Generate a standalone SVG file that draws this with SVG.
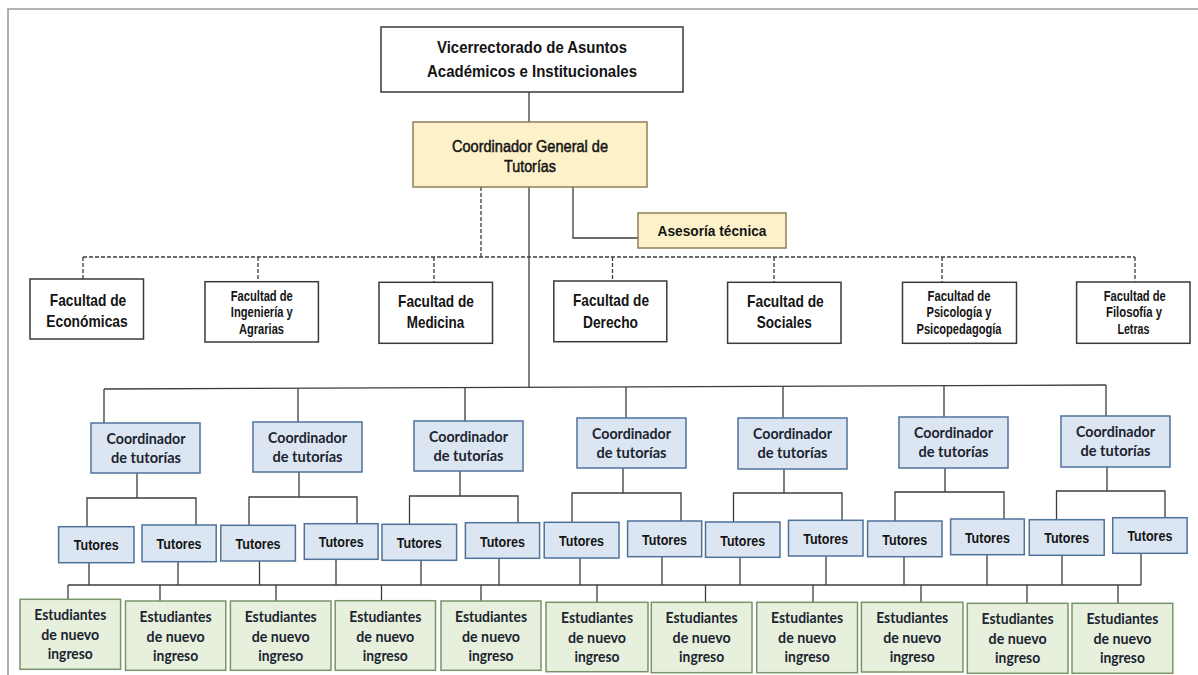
<svg xmlns="http://www.w3.org/2000/svg" width="1198" height="675" viewBox="0 0 1198 675">
  <style>
    .frame { stroke: #9c9c9c; stroke-width: 1.6; fill: none; }
    .ln { stroke: #3c3c3c; stroke-width: 1.3; fill: none; }
    .dash { stroke: #3c3c3c; stroke-width: 1.3; fill: none; stroke-dasharray: 4 2; }
    .b-white { fill: #ffffff; stroke: #3a3a3a; stroke-width: 1.5; }
    .b-gold { fill: #fdf1c9; stroke: #8f7f5a; stroke-width: 1.5; }
    .b-blue { fill: #dce6f2; stroke: #4f729b; stroke-width: 1.5; }
    .b-green { fill: #e6f0dc; stroke: #7a946a; stroke-width: 1.5; }
    text { text-anchor: middle; fill: #141414; }
    .ar { font-family: "Liberation Sans", Arial, sans-serif; font-weight: bold; }
    .arn { font-family: "Liberation Sans", Arial, sans-serif; font-weight: normal; stroke: #141414; stroke-width: 0.5; }
    .cal { font-family: Lato, "Liberation Sans", sans-serif; font-weight: bold; fill: #1c2430; }
    .f17 { font-size: 17px; }
    .f16 { font-size: 16.5px; }
    .f15 { font-size: 15.5px; }
    .f14 { font-size: 14.5px; }
    .f13 { font-size: 14px; }
  </style>

  <!-- page frame -->
  <path class="frame" d="M8,675 V9 H1198"/>

  <!-- connectors -->
  <g id="connectors">
    <path class="ln" d="M529,92 V122"/>
    <path class="ln" d="M573,187 V238 H638"/>
    <!-- dotted links to the faculties -->
    <path class="dash" d="M481,187 V257"/>
    <path class="dash" d="M83,257 H1135"/>
    <path class="dash" d="M83,257 V279 M258,257 V281.7 M434,257 V282.3 M612.5,257 V281 M774,257 V282.3 M942,257 V282.3 M1135,257 V282"/>
    <!-- trunk to the tutoring coordinators -->
    <path class="ln" d="M529,187 V387.3"/>
    <path class="ln" d="M104,389 L1106,385"/>
    <path class="ln" d="M104,389 V423 M298,388.2 V422 M465,387.6 V421 M626,386.9 V418 M783,386.3 V418 M944,385.6 V417 M1106,385 V416"/>
    <!-- coordinator to tutors -->
    <path class="ln" d="M137,473 V498 M87,526.7 V498 H196 V525"/>
    <path class="ln" d="M299,472 V497 M249,525.3 V497 H357 V523.7"/>
    <path class="ln" d="M460,471 V496 M409.5,524.3 V496 H518 V522.7"/>
    <path class="ln" d="M623,468 V493 M572,522.3 V493 H681 V521"/>
    <path class="ln" d="M784,469 V493 M733.5,522 V493 H842 V520.3"/>
    <path class="ln" d="M945,468 V492 M895,521 V492 H1004 V519"/>
    <path class="ln" d="M1107,467 V491 M1056.5,519.7 V491 H1165 V517.7"/>
    <!-- tutors to students -->
    <path class="ln" d="M89,562.7 V585 M178,561.7 V585 M259.5,561 V585 M336,559.3 V585 M421,560.3 V585 M499,558.3 V585 M580,558 V585 M662,556.7 V585 M740,557.3 V585 M826,556 V585 M904,556.7 V585 M987,554.7 V585 M1062,555.3 V585 M1141,553.3 V585"/>
    <path class="ln" d="M68,585 H1141"/>
    <path class="ln" d="M68,585 V599.3 M160,585 V601 M276,585 V601 M381.5,585 V600.7 M481,585 V601 M597,585 V602.3 M705.5,585 V602.3 M813,585 V602.3 M921,585 V602.3 M1027,585 V603.3 M1118,585 V603.3"/>
  </g>

  <!-- top management -->
  <g id="vicerrectorado">
    <rect class="b-white" x="381" y="27" width="302" height="65"/>
    <text class="ar f16" x="532" y="53.3" textLength="190" lengthAdjust="spacingAndGlyphs">Vicerrectorado de Asuntos</text>
    <text class="ar f16" x="532" y="76.7" textLength="210" lengthAdjust="spacingAndGlyphs">Académicos e Institucionales</text>
  </g>
  <g id="coordinador-general">
    <rect class="b-gold" x="413" y="122" width="234" height="65"/>
    <text class="arn f16" x="530" y="151.7" textLength="156" lengthAdjust="spacingAndGlyphs">Coordinador General de</text>
    <text class="arn f16" x="530" y="171.7" textLength="52" lengthAdjust="spacingAndGlyphs">Tutorías</text>
  </g>
  <g id="asesoria">
    <rect class="b-gold" x="638" y="213" width="148" height="35"/>
    <text class="ar f15" x="712" y="236" textLength="109" lengthAdjust="spacingAndGlyphs">Asesoría técnica</text>
  </g>

  <!-- faculties -->
  <g id="fac-economicas">
    <rect class="b-white" x="30" y="279" width="113.5" height="60"/>
    <text class="ar f17" x="88" y="305.7" textLength="76.5" lengthAdjust="spacingAndGlyphs">Facultad de</text>
    <text class="ar f17" x="87" y="326.5" textLength="81.5" lengthAdjust="spacingAndGlyphs">Económicas</text>
  </g>
  <g id="fac-ingenieria">
    <rect class="b-white" x="205" y="281.7" width="113.4" height="60.3"/>
    <text class="ar f13" x="261.8" y="300.7" textLength="62" lengthAdjust="spacingAndGlyphs">Facultad de</text>
    <text class="ar f13" x="261.8" y="317.3" textLength="62" lengthAdjust="spacingAndGlyphs">Ingeniería y</text>
    <text class="ar f13" x="261.5" y="334.3" textLength="45" lengthAdjust="spacingAndGlyphs">Agrarias</text>
  </g>
  <g id="fac-medicina">
    <rect class="b-white" x="379" y="282.3" width="113.5" height="61"/>
    <text class="ar f17" x="436" y="306.7" textLength="75.8" lengthAdjust="spacingAndGlyphs">Facultad de</text>
    <text class="ar f17" x="435.5" y="327.8" textLength="57.4" lengthAdjust="spacingAndGlyphs">Medicina</text>
  </g>
  <g id="fac-derecho">
    <rect class="b-white" x="553.8" y="281" width="113" height="60.7"/>
    <text class="ar f17" x="611" y="305.7" textLength="76" lengthAdjust="spacingAndGlyphs">Facultad de</text>
    <text class="ar f17" x="610.5" y="327.8" textLength="55" lengthAdjust="spacingAndGlyphs">Derecho</text>
  </g>
  <g id="fac-sociales">
    <rect class="b-white" x="727.6" y="282.3" width="113.4" height="61"/>
    <text class="ar f17" x="785.4" y="307.3" textLength="76.8" lengthAdjust="spacingAndGlyphs">Facultad de</text>
    <text class="ar f17" x="784.3" y="327.8" textLength="55" lengthAdjust="spacingAndGlyphs">Sociales</text>
  </g>
  <g id="fac-psicologia">
    <rect class="b-white" x="902.5" y="282.3" width="114" height="61"/>
    <text class="ar f13" x="959" y="300.7" textLength="63" lengthAdjust="spacingAndGlyphs">Facultad de</text>
    <text class="ar f13" x="959" y="317.3" textLength="65" lengthAdjust="spacingAndGlyphs">Psicología y</text>
    <text class="ar f13" x="959" y="334.3" textLength="85" lengthAdjust="spacingAndGlyphs">Psicopedagogía</text>
  </g>
  <g id="fac-filosofia">
    <rect class="b-white" x="1076.6" y="282" width="113.4" height="61.3"/>
    <text class="ar f13" x="1134.8" y="300.7" textLength="62" lengthAdjust="spacingAndGlyphs">Facultad de</text>
    <text class="ar f13" x="1134" y="317.3" textLength="56" lengthAdjust="spacingAndGlyphs">Filosofía y</text>
    <text class="ar f13" x="1133.4" y="334.3" textLength="32" lengthAdjust="spacingAndGlyphs">Letras</text>
  </g>

  <!-- tutoring coordinators -->
  <g id="coord-1">
    <rect class="b-blue" x="91" y="423" width="109" height="50"/>
    <text class="cal f15" x="146" y="444" textLength="79" lengthAdjust="spacingAndGlyphs">Coordinador</text>
    <text class="cal f15" x="146" y="463" textLength="70" lengthAdjust="spacingAndGlyphs">de tutorías</text>
  </g>
  <g id="coord-2">
    <rect class="b-blue" x="253" y="422" width="109" height="50"/>
    <text class="cal f15" x="307.5" y="443" textLength="79" lengthAdjust="spacingAndGlyphs">Coordinador</text>
    <text class="cal f15" x="307.5" y="462" textLength="70" lengthAdjust="spacingAndGlyphs">de tutorías</text>
  </g>
  <g id="coord-3">
    <rect class="b-blue" x="414" y="421" width="109" height="50"/>
    <text class="cal f15" x="468.5" y="442" textLength="79" lengthAdjust="spacingAndGlyphs">Coordinador</text>
    <text class="cal f15" x="468.5" y="461" textLength="70" lengthAdjust="spacingAndGlyphs">de tutorías</text>
  </g>
  <g id="coord-4">
    <rect class="b-blue" x="577" y="418" width="109" height="50"/>
    <text class="cal f15" x="631.5" y="439.3" textLength="79" lengthAdjust="spacingAndGlyphs">Coordinador</text>
    <text class="cal f15" x="631.5" y="458.3" textLength="70" lengthAdjust="spacingAndGlyphs">de tutorías</text>
  </g>
  <g id="coord-5">
    <rect class="b-blue" x="738" y="418" width="109" height="51"/>
    <text class="cal f15" x="792.5" y="439.3" textLength="79" lengthAdjust="spacingAndGlyphs">Coordinador</text>
    <text class="cal f15" x="792.5" y="458.3" textLength="70" lengthAdjust="spacingAndGlyphs">de tutorías</text>
  </g>
  <g id="coord-6">
    <rect class="b-blue" x="899" y="417" width="109" height="51"/>
    <text class="cal f15" x="953.5" y="438.3" textLength="79" lengthAdjust="spacingAndGlyphs">Coordinador</text>
    <text class="cal f15" x="953.5" y="457.3" textLength="70" lengthAdjust="spacingAndGlyphs">de tutorías</text>
  </g>
  <g id="coord-7">
    <rect class="b-blue" x="1061" y="416" width="109" height="51"/>
    <text class="cal f15" x="1115.5" y="437" textLength="79" lengthAdjust="spacingAndGlyphs">Coordinador</text>
    <text class="cal f15" x="1115.5" y="456" textLength="70" lengthAdjust="spacingAndGlyphs">de tutorías</text>
  </g>

  <!-- tutors -->
  <g id="tutores-1"><rect class="b-blue" x="58.6" y="526.7" width="75.4" height="36"/><text class="ar f15" x="96.3" y="550.3" textLength="45" lengthAdjust="spacingAndGlyphs">Tutores</text></g>
  <g id="tutores-2"><rect class="b-blue" x="142" y="525" width="74.2" height="36.7"/><text class="ar f15" x="179.1" y="548.6" textLength="45" lengthAdjust="spacingAndGlyphs">Tutores</text></g>
  <g id="tutores-3"><rect class="b-blue" x="220.8" y="525.3" width="74.6" height="35.7"/><text class="ar f15" x="258.1" y="549.3" textLength="45" lengthAdjust="spacingAndGlyphs">Tutores</text></g>
  <g id="tutores-4"><rect class="b-blue" x="304.3" y="523.7" width="73.8" height="35.6"/><text class="ar f15" x="341.2" y="547" textLength="45" lengthAdjust="spacingAndGlyphs">Tutores</text></g>
  <g id="tutores-5"><rect class="b-blue" x="382" y="524.3" width="74.6" height="36"/><text class="ar f15" x="419.3" y="548" textLength="45" lengthAdjust="spacingAndGlyphs">Tutores</text></g>
  <g id="tutores-6"><rect class="b-blue" x="465.4" y="522.7" width="74.2" height="35.6"/><text class="ar f15" x="502.5" y="546.7" textLength="45" lengthAdjust="spacingAndGlyphs">Tutores</text></g>
  <g id="tutores-7"><rect class="b-blue" x="544.2" y="522.3" width="74.8" height="35.7"/><text class="ar f15" x="581.6" y="546.2" textLength="45" lengthAdjust="spacingAndGlyphs">Tutores</text></g>
  <g id="tutores-8"><rect class="b-blue" x="627.6" y="521" width="74.1" height="35.7"/><text class="ar f15" x="664.6" y="544.5" textLength="45" lengthAdjust="spacingAndGlyphs">Tutores</text></g>
  <g id="tutores-9"><rect class="b-blue" x="705.5" y="522" width="74.5" height="35.3"/><text class="ar f15" x="742.7" y="545.5" textLength="45" lengthAdjust="spacingAndGlyphs">Tutores</text></g>
  <g id="tutores-10"><rect class="b-blue" x="788.5" y="520.3" width="74.5" height="35.7"/><text class="ar f15" x="825.7" y="543.5" textLength="45" lengthAdjust="spacingAndGlyphs">Tutores</text></g>
  <g id="tutores-11"><rect class="b-blue" x="867.6" y="521" width="74.4" height="35.7"/><text class="ar f15" x="904.8" y="544.7" textLength="45" lengthAdjust="spacingAndGlyphs">Tutores</text></g>
  <g id="tutores-12"><rect class="b-blue" x="950.6" y="519" width="73.7" height="35.7"/><text class="ar f15" x="987.4" y="542.6" textLength="45" lengthAdjust="spacingAndGlyphs">Tutores</text></g>
  <g id="tutores-13"><rect class="b-blue" x="1029.3" y="519.7" width="74.9" height="35.6"/><text class="ar f15" x="1066.7" y="543.4" textLength="45" lengthAdjust="spacingAndGlyphs">Tutores</text></g>
  <g id="tutores-14"><rect class="b-blue" x="1112.7" y="517.7" width="74.4" height="35.6"/><text class="ar f15" x="1149.9" y="541" textLength="45" lengthAdjust="spacingAndGlyphs">Tutores</text></g>

  <!-- new students -->
  <g id="estudiantes-1"><rect class="b-green" x="20" y="599.3" width="100.6" height="70"/>
    <text class="cal f14" x="70.3" y="620.3" textLength="72" lengthAdjust="spacingAndGlyphs">Estudiantes</text>
    <text class="cal f14" x="70.3" y="640.3" textLength="58" lengthAdjust="spacingAndGlyphs">de nuevo</text>
    <text class="cal f14" x="70.3" y="659.3" textLength="45" lengthAdjust="spacingAndGlyphs">ingreso</text></g>
  <g id="estudiantes-2"><rect class="b-green" x="125.5" y="601" width="100.3" height="69.3"/>
    <text class="cal f14" x="175.6" y="622" textLength="72" lengthAdjust="spacingAndGlyphs">Estudiantes</text>
    <text class="cal f14" x="175.6" y="642" textLength="58" lengthAdjust="spacingAndGlyphs">de nuevo</text>
    <text class="cal f14" x="175.6" y="661" textLength="45" lengthAdjust="spacingAndGlyphs">ingreso</text></g>
  <g id="estudiantes-3"><rect class="b-green" x="230.4" y="601" width="100.6" height="69.3"/>
    <text class="cal f14" x="280.7" y="622" textLength="72" lengthAdjust="spacingAndGlyphs">Estudiantes</text>
    <text class="cal f14" x="280.7" y="642" textLength="58" lengthAdjust="spacingAndGlyphs">de nuevo</text>
    <text class="cal f14" x="280.7" y="661" textLength="45" lengthAdjust="spacingAndGlyphs">ingreso</text></g>
  <g id="estudiantes-4"><rect class="b-green" x="335.2" y="600.7" width="100.3" height="69.6"/>
    <text class="cal f14" x="385.3" y="621.7" textLength="72" lengthAdjust="spacingAndGlyphs">Estudiantes</text>
    <text class="cal f14" x="385.3" y="641.7" textLength="58" lengthAdjust="spacingAndGlyphs">de nuevo</text>
    <text class="cal f14" x="385.3" y="660.7" textLength="45" lengthAdjust="spacingAndGlyphs">ingreso</text></g>
  <g id="estudiantes-5"><rect class="b-green" x="441" y="601" width="100" height="69.3"/>
    <text class="cal f14" x="491" y="622" textLength="72" lengthAdjust="spacingAndGlyphs">Estudiantes</text>
    <text class="cal f14" x="491" y="642" textLength="58" lengthAdjust="spacingAndGlyphs">de nuevo</text>
    <text class="cal f14" x="491" y="661" textLength="45" lengthAdjust="spacingAndGlyphs">ingreso</text></g>
  <g id="estudiantes-6"><rect class="b-green" x="546" y="602.3" width="102" height="69.4"/>
    <text class="cal f14" x="597" y="623.3" textLength="72" lengthAdjust="spacingAndGlyphs">Estudiantes</text>
    <text class="cal f14" x="597" y="643.3" textLength="58" lengthAdjust="spacingAndGlyphs">de nuevo</text>
    <text class="cal f14" x="597" y="662.3" textLength="45" lengthAdjust="spacingAndGlyphs">ingreso</text></g>
  <g id="estudiantes-7"><rect class="b-green" x="651.3" y="602.3" width="100.7" height="70.4"/>
    <text class="cal f14" x="701.6" y="623.3" textLength="72" lengthAdjust="spacingAndGlyphs">Estudiantes</text>
    <text class="cal f14" x="701.6" y="643.3" textLength="58" lengthAdjust="spacingAndGlyphs">de nuevo</text>
    <text class="cal f14" x="701.6" y="662.3" textLength="45" lengthAdjust="spacingAndGlyphs">ingreso</text></g>
  <g id="estudiantes-8"><rect class="b-green" x="756.7" y="602.3" width="100.8" height="70.4"/>
    <text class="cal f14" x="807.1" y="623.3" textLength="72" lengthAdjust="spacingAndGlyphs">Estudiantes</text>
    <text class="cal f14" x="807.1" y="643.3" textLength="58" lengthAdjust="spacingAndGlyphs">de nuevo</text>
    <text class="cal f14" x="807.1" y="662.3" textLength="45" lengthAdjust="spacingAndGlyphs">ingreso</text></g>
  <g id="estudiantes-9"><rect class="b-green" x="861.4" y="602.3" width="101.6" height="69.7"/>
    <text class="cal f14" x="912.2" y="623.3" textLength="72" lengthAdjust="spacingAndGlyphs">Estudiantes</text>
    <text class="cal f14" x="912.2" y="643.3" textLength="58" lengthAdjust="spacingAndGlyphs">de nuevo</text>
    <text class="cal f14" x="912.2" y="662.3" textLength="45" lengthAdjust="spacingAndGlyphs">ingreso</text></g>
  <g id="estudiantes-10"><rect class="b-green" x="967.3" y="603.3" width="100.7" height="70"/>
    <text class="cal f14" x="1017.6" y="624.3" textLength="72" lengthAdjust="spacingAndGlyphs">Estudiantes</text>
    <text class="cal f14" x="1017.6" y="644.3" textLength="58" lengthAdjust="spacingAndGlyphs">de nuevo</text>
    <text class="cal f14" x="1017.6" y="663.3" textLength="45" lengthAdjust="spacingAndGlyphs">ingreso</text></g>
  <g id="estudiantes-11"><rect class="b-green" x="1072" y="603.3" width="100.8" height="70"/>
    <text class="cal f14" x="1122.4" y="624.3" textLength="72" lengthAdjust="spacingAndGlyphs">Estudiantes</text>
    <text class="cal f14" x="1122.4" y="644.3" textLength="58" lengthAdjust="spacingAndGlyphs">de nuevo</text>
    <text class="cal f14" x="1122.4" y="663.3" textLength="45" lengthAdjust="spacingAndGlyphs">ingreso</text></g>
</svg>
